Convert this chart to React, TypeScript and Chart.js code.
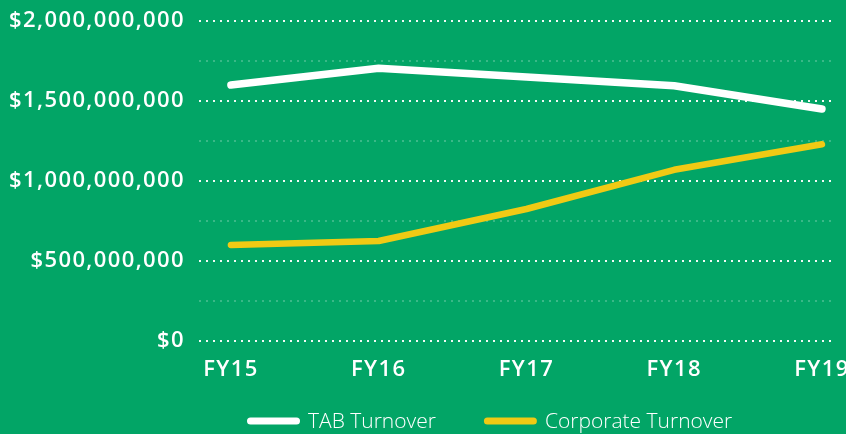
import React, { useEffect, useRef } from "react";
import { Chart, registerables } from "chart.js";
Chart.register(...registerables);

const categories = ["FY15", "FY16", "FY17", "FY18", "FY19"];
const tabTurnover = [1600000000, 1705000000, 1650000000, 1595000000, 1450000000];
const corporateTurnover = [600000000, 625000000, 825000000, 1070000000, 1230000000];
const yTickLabels = ["$0", "$500,000,000", "$1,000,000,000", "$1,500,000,000", "$2,000,000,000"];

const BG = "#02A566";
const WHITE = "#FFFFFF";
const YELLOW = "#F0CA14";
const FONT = "'Open Sans'";

export default function App() {
  const ref = useRef<HTMLCanvasElement | null>(null);
  useEffect(() => {
    document.body.style.margin = "0";
    const canvas = ref.current!;
    const toPts = (arr: number[]) => arr.map((v, i) => ({ x: i, y: v }));
    const setSpacing = (c: any) => {
      try {
        (c.ctx as any).letterSpacing = "1.4px";
      } catch (e) {}
    };
    const legendPlugin = {
      id: "customLegend",
      afterDraw: (c: any) => {
        const g = c.ctx;
        g.save();
        try {
          (g as any).letterSpacing = "0px";
        } catch (e) {}
        g.font = `300 21px ${FONT}`;
        g.textBaseline = "middle";
        g.textAlign = "left";
        const y = 421;
        let x = 247;
        const boxW = 53;
        const boxH = 7;
        c.data.datasets.forEach((d: any) => {
          g.fillStyle = d.borderColor;
          g.beginPath();
          (g as any).roundRect(x, y - boxH / 2, boxW, boxH, boxH / 2);
          g.fill();
          x += boxW + 8;
          g.fillStyle = WHITE;
          g.fillText(d.label, x, y + 1);
          x += g.measureText(d.label).width + 48;
        });
        g.restore();
      },
    };
    const chart = new Chart(canvas, {
      type: "line",
      data: {
        datasets: [
          {
            label: "TAB Turnover",
            data: toPts(tabTurnover),
            borderColor: WHITE,
            backgroundColor: WHITE,
            borderWidth: 7.5,
            borderCapStyle: "round",
            borderJoinStyle: "round",
            pointRadius: 0,
            tension: 0,
          },
          {
            label: "Corporate Turnover",
            data: toPts(corporateTurnover),
            borderColor: YELLOW,
            backgroundColor: YELLOW,
            borderWidth: 6.5,
            borderCapStyle: "round",
            borderJoinStyle: "round",
            pointRadius: 0,
            tension: 0,
          },
        ],
      },
      options: {
        animation: false,
        responsive: false,
        layout: { padding: { top: 21, right: 14, left: 0, bottom: 45 } },
        plugins: {
          tooltip: { enabled: false },
          legend: { display: false },
        },
        scales: {
          x: {
            type: "linear",
            min: -0.216,
            max: 4.068,
            afterBuildTicks: (s: any) => {
              s.ticks = categories.map((_, i) => ({ value: i }));
            },
            afterFit: (s: any) => {
              s.height = 48;
              s.paddingLeft = 0;
              s.paddingRight = 0;
            },
            grid: { display: false, drawTicks: false },
            border: { display: false },
            ticks: {
              color: WHITE,
              font: { family: FONT, size: 22, weight: "600" },
              padding: 16,
              maxRotation: 0,
              autoSkip: false,
              callback: (v: any) => categories[Math.round(Number(v))] ?? "",
            },
          },
          y: {
            min: 0,
            max: 2000000000,
            afterFit: (s: any) => {
              s.width = 199;
              s.paddingTop = 0;
              s.paddingBottom = 0;
            },
            grid: {
              drawTicks: false,
              lineWidth: 2,
              color: (ctx: any) =>
                ctx.tick && ctx.tick.value % 500000000 === 0 ? "rgba(255,255,255,0.95)" : "rgba(255,255,255,0.22)",
            },
            border: { display: false, dash: [2, 5] },
            ticks: {
              stepSize: 250000000,
              color: WHITE,
              font: { family: FONT, size: 22, weight: "600" },
              padding: 14,
              callback: (v: any) => {
                const n = Number(v);
                if (n % 500000000 !== 0) return "";
                return yTickLabels[n / 500000000];
              },
            },
          },
        },
      },
      plugins: [
        {
          id: "bg",
          beforeInit: setSpacing,
          beforeUpdate: setSpacing,
          beforeLayout: setSpacing,
          beforeDraw: (c: any) => {
            setSpacing(c);
            const g = c.ctx;
            g.save();
            g.fillStyle = BG;
            g.fillRect(0, 0, c.width, c.height);
            g.restore();
          },
        },
        legendPlugin,
      ],
    } as any);
    return () => chart.destroy();
  }, []);
  return <canvas ref={ref} width={846} height={434} style={{ display: "block" }} />;
}
